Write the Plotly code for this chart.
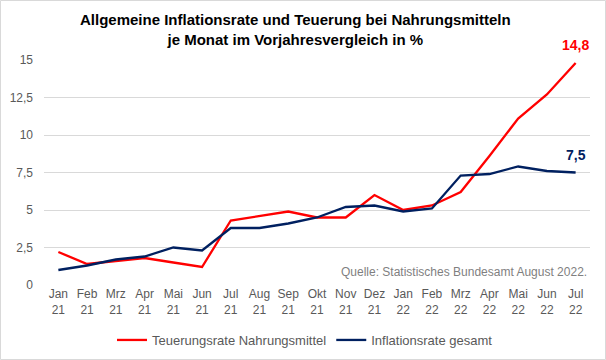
import plotly.graph_objects as go

months = ["Jan<br>21", "Feb<br>21", "Mrz<br>21", "Apr<br>21", "Mai<br>21", "Jun<br>21",
          "Jul<br>21", "Aug<br>21", "Sep<br>21", "Okt<br>21", "Nov<br>21", "Dez<br>21",
          "Jan<br>22", "Feb<br>22", "Mrz<br>22", "Apr<br>22", "Mai<br>22", "Jun<br>22", "Jul<br>22"]
food = [2.2, 1.4, 1.6, 1.8, 1.5, 1.2, 4.3, 4.6, 4.9, 4.5, 4.5, 6.0,
        5.0, 5.3, 6.2, 8.6, 11.1, 12.7, 14.8]
overall = [1.0, 1.3, 1.7, 1.9, 2.5, 2.3, 3.8, 3.8, 4.1, 4.5, 5.2, 5.3,
           4.9, 5.1, 7.3, 7.4, 7.9, 7.6, 7.5]
y_ticks = [0, 2.5, 5, 7.5, 10, 12.5, 15]
y_ticktext = ["0", "2,5", "5", "7,5", "10", "12,5", "15"]

x = list(range(len(months)))
FONT = "Liberation Sans, Arial, sans-serif"
GRAY = "#595959"

fig = go.Figure()
fig.add_trace(go.Scatter(x=x, y=food, mode="lines", name="Teuerungsrate Nahrungsmittel",
                         line=dict(color="#ff0000", width=2.3)))
fig.add_trace(go.Scatter(x=x, y=overall, mode="lines", name="Inflationsrate gesamt",
                         line=dict(color="#002060", width=2.3)))

L, R, T, B = 44, 16, 60, 75
W, H = 606, 360
pw, ph = W - L - R, H - T - B

def py(pix):
    """pixel row -> paper y"""
    return (H - B - pix) / ph

def px(pix):
    return (pix - L) / pw

fig.update_layout(
    width=W, height=H,
    margin=dict(l=L, r=R, t=T, b=B, autoexpand=False),
    paper_bgcolor="white", plot_bgcolor="white",
    font=dict(family=FONT, size=12, color=GRAY),
    xaxis=dict(tickvals=x, ticktext=months, range=[-0.5, len(months) - 0.5],
               showgrid=False, zeroline=False, showline=False, ticks="", automargin=False,
               tickfont=dict(size=12, color=GRAY)),
    yaxis=dict(tickvals=y_ticks, ticktext=y_ticktext, range=[0, 15], automargin=False,
               showgrid=True, gridcolor="#d9d9d9", gridwidth=1, zeroline=False,
               showline=False, ticks="", ticklabelstandoff=10,
               tickfont=dict(size=12, color=GRAY)),
    showlegend=True,
    legend=dict(orientation="h", x=px(305), xanchor="center",
                y=py(340), yanchor="middle", tracegroupgap=0,
                font=dict(size=13, color=GRAY), itemwidth=30),
)

fig.add_annotation(xref="paper", yref="paper", x=px(295), y=py(29.5),
                   xanchor="center", yanchor="middle", showarrow=False,
                   text="<b>Allgemeine Inflationsrate und Teuerung bei Nahrungsmitteln<br>je Monat im Vorjahresvergleich in %</b>",
                   font=dict(family=FONT, size=15, color="black"))

# white box that hides the 0 gridline behind the source note
fig.add_shape(type="rect", xref="x", yref="y", x0=9.55, x1=18.6, y0=-0.2, y1=0.2,
              fillcolor="white", line=dict(width=0), layer="above")
# outer border
fig.add_shape(type="rect", xref="paper", yref="paper",
              x0=px(0.5), x1=px(W - 0.5), y0=py(H - 0.5), y1=py(0.5),
              line=dict(color="#d9d9d9", width=1), fillcolor="rgba(0,0,0,0)", layer="above")

fig.add_annotation(x=x[-1], y=food[-1], text="<b>14,8</b>", showarrow=False,
                   yanchor="bottom", yshift=8, font=dict(size=14, color="#ff0000"))
fig.add_annotation(x=x[-1], y=overall[-1], text="<b>7,5</b>", showarrow=False,
                   yanchor="bottom", yshift=8, font=dict(size=14, color="#002060"))
fig.add_annotation(xref="paper", yref="paper", x=px(589), y=py(272),
                   xanchor="right", yanchor="middle", showarrow=False,
                   text="Quelle: Statistisches Bundesamt August 2022.",
                   font=dict(size=12, color="#7f7f7f"))

fig.write_html("out.html", config={"displayModeBar": False},
               post_script="document.body.style.margin='0';document.body.style.overflow='hidden';")
